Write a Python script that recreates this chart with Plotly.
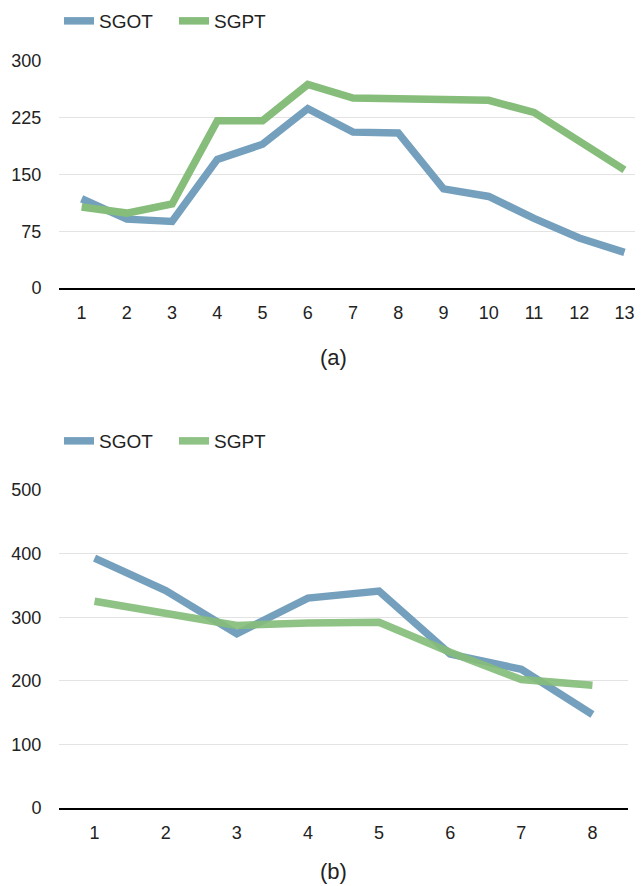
import plotly.graph_objects as go

cats_a = [str(i) for i in range(1, 14)]
sgot_a = [118, 91, 88, 170, 190, 237, 206, 205, 131, 121, 92, 66, 47]
sgpt_a = [107, 99, 111, 221, 221, 269, 251, 250, 249, 248, 232, 195, 156]
yticks_a = [0, 75, 150, 225, 300]

cats_b = [str(i) for i in range(1, 9)]
sgot_b = [393, 342, 274, 330, 341, 242, 218, 147]
sgpt_b = [325, 306, 287, 291, 292, 245, 202, 193]
yticks_b = [0, 100, 200, 300, 400, 500]

BLUE = "#74a0bd"
GREEN = "#86bd7b"
FONT = "Liberation Sans, Arial, Helvetica, sans-serif"
O = 8  # default page body margin
W, H = 643 - O, 886 - O

fig = go.Figure()
fig.add_trace(go.Scatter(x=cats_a, y=sgot_a, name="SGOT", mode="lines",
                         line=dict(color=BLUE, width=7.5), xaxis="x", yaxis="y", legend="legend"))
fig.add_trace(go.Scatter(x=cats_a, y=sgpt_a, name="SGPT", mode="lines",
                         line=dict(color=GREEN, width=7.5), xaxis="x", yaxis="y", legend="legend"))
fig.add_trace(go.Scatter(x=cats_b, y=sgot_b, name="SGOT", mode="lines",
                         line=dict(color=BLUE, width=7.5), xaxis="x2", yaxis="y2", legend="legend2"))
fig.add_trace(go.Scatter(x=cats_b, y=sgpt_b, name="SGPT", mode="lines", opacity=0.92,
                         line=dict(color=GREEN, width=7.5), xaxis="x2", yaxis="y2", legend="legend2"))

def py(p):
    return 1 - (p - O) / H

def px(p):
    return (p - O) / W

TICKFONT = dict(family=FONT, size=18, color="#222")
common_x = dict(type="category", showgrid=False, showline=True, linecolor="black", linewidth=2,
                ticks="outside", ticklen=7, tickcolor="rgba(0,0,0,0)", automargin=False,
                tickfont=TICKFONT, zeroline=False)
common_y = dict(showgrid=True, gridcolor="#e3e3e3", gridwidth=1, zeroline=False, showline=False,
                ticks="outside", ticklen=13, tickcolor="rgba(0,0,0,0)", automargin=False,
                tickfont=TICKFONT)

LEGFONT = dict(family=FONT, size=19, color="#222")
fig.update_layout(
    width=W, height=H,
    margin=dict(l=0, r=0, t=0, b=0, autoexpand=False),
    paper_bgcolor="white", plot_bgcolor="white",
    font=dict(family=FONT, size=18, color="#222"),
    xaxis=dict(common_x, domain=[px(59), 1.0], anchor="y", range=[-0.5, 12.41]),
    yaxis=dict(common_y, domain=[py(288), py(61)], anchor="x", range=[0, 300], tickvals=yticks_a),
    xaxis2=dict(common_x, domain=[px(59), px(628)], anchor="y2", range=[-0.5, 7.5]),
    yaxis2=dict(common_y, domain=[py(808), py(490)], anchor="x2", range=[0, 500], tickvals=yticks_b),
    legend=dict(orientation="h", x=px(59), y=py(21), xanchor="left", yanchor="middle",
                entrywidth=70, entrywidthmode="pixels",
                font=LEGFONT, bgcolor="rgba(0,0,0,0)"),
    legend2=dict(orientation="h", x=px(59), y=py(441), xanchor="left", yanchor="middle",
                 entrywidth=70, entrywidthmode="pixels",
                 font=LEGFONT, bgcolor="rgba(0,0,0,0)"),
    annotations=[
        dict(text="(a)", x=px(333), y=py(358), xref="paper", yref="paper", showarrow=False,
             xanchor="center", yanchor="middle",
             font=dict(family=FONT, size=22, color="#222")),
        dict(text="(b)", x=px(333), y=py(871), xref="paper", yref="paper", showarrow=False,
             xanchor="center", yanchor="middle",
             font=dict(family=FONT, size=22, color="#222")),
    ],
)

fig.write_html("out.html")
